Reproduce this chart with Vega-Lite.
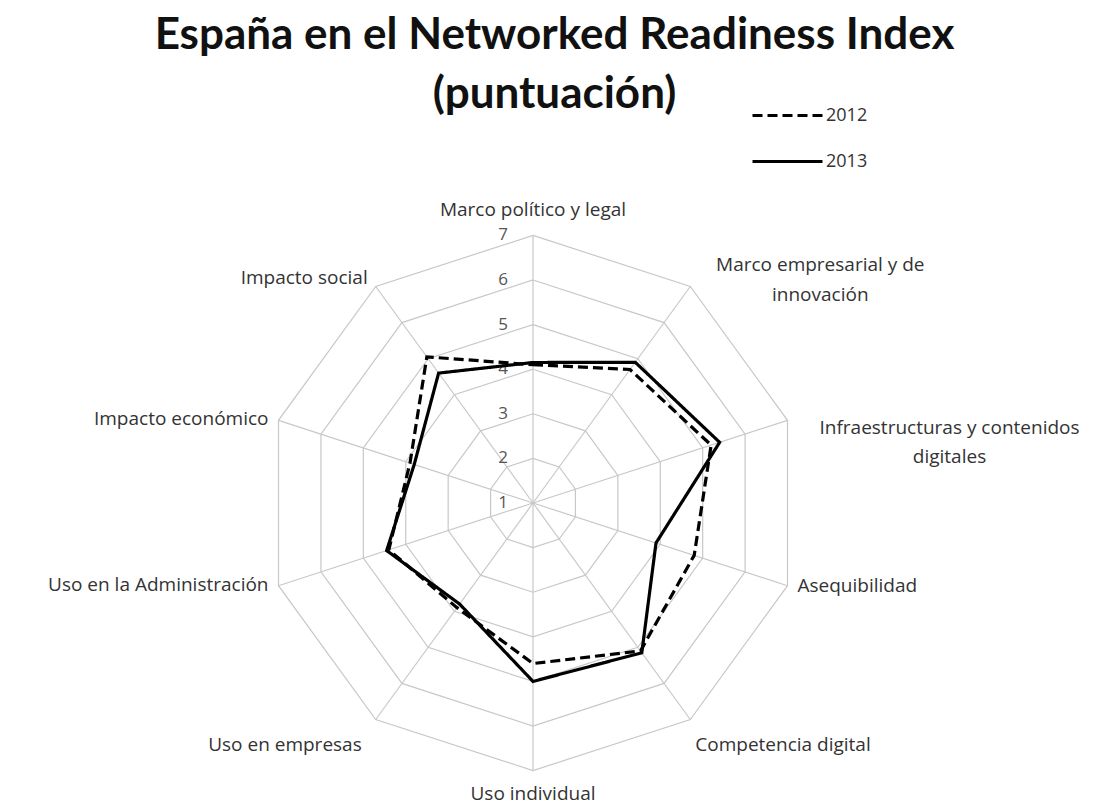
{
  "$schema": "https://vega.github.io/schema/vega-lite/v6.json",
  "autosize": {"type": "none"},
  "width": 1109,
  "height": 675,
  "padding": {"left": 0, "right": 0, "top": 130, "bottom": 0},
  "background": "white",
  "title": {
    "text": ["España en el Networked Readiness Index", "(puntuación)"],
    "font": "Lato",
    "fontSize": 44,
    "fontWeight": "bold",
    "lineHeight": 59,
    "anchor": "middle",
    "offset": -16,
    "dy": 22,
    "color": "#111111"
  },
  "config": {"view": {"stroke": null}},
  "datasets": {
    "scores": [
      {"eje": "Marco político y legal", "k": 0, "year": "2012", "value": 4.1},
      {"eje": "Marco empresarial y de innovación", "k": 1, "year": "2012", "value": 4.7},
      {"eje": "Infraestructuras y contenidos digitales", "k": 2, "year": "2012", "value": 5.2},
      {"eje": "Asequibilidad", "k": 3, "year": "2012", "value": 4.8},
      {"eje": "Competencia digital", "k": 4, "year": "2012", "value": 5.1},
      {"eje": "Uso individual", "k": 5, "year": "2012", "value": 4.6},
      {"eje": "Uso en empresas", "k": 6, "year": "2012", "value": 3.9},
      {"eje": "Uso en la Administración", "k": 7, "year": "2012", "value": 4.4},
      {"eje": "Impacto económico", "k": 8, "year": "2012", "value": 3.9},
      {"eje": "Impacto social", "k": 9, "year": "2012", "value": 5.05},
      {"eje": "Marco político y legal", "k": 0, "year": "2013", "value": 4.15},
      {"eje": "Marco empresarial y de innovación", "k": 1, "year": "2013", "value": 4.9},
      {"eje": "Infraestructuras y contenidos digitales", "k": 2, "year": "2013", "value": 5.4},
      {"eje": "Asequibilidad", "k": 3, "year": "2013", "value": 3.9},
      {"eje": "Competencia digital", "k": 4, "year": "2013", "value": 5.15},
      {"eje": "Uso individual", "k": 5, "year": "2013", "value": 5.0},
      {"eje": "Uso en empresas", "k": 6, "year": "2013", "value": 3.8},
      {"eje": "Uso en la Administración", "k": 7, "year": "2013", "value": 4.45},
      {"eje": "Impacto económico", "k": 8, "year": "2013", "value": 3.8},
      {"eje": "Impacto social", "k": 9, "year": "2013", "value": 4.6}
    ],
    "labels": [
      {"k": 0, "label": "Marco político y legal"},
      {"k": 1, "label": "Marco empresarial y de\ninnovación"},
      {"k": 2, "label": "Infraestructuras y contenidos\ndigitales"},
      {"k": 3, "label": "Asequibilidad"},
      {"k": 4, "label": "Competencia digital"},
      {"k": 5, "label": "Uso individual"},
      {"k": 6, "label": "Uso en empresas"},
      {"k": 7, "label": "Uso en la Administración"},
      {"k": 8, "label": "Impacto económico"},
      {"k": 9, "label": "Impacto social"}
    ],
    "grid": [
      {"k": 0, "ring": 2}, {"k": 1, "ring": 2}, {"k": 2, "ring": 2}, {"k": 3, "ring": 2}, {"k": 4, "ring": 2}, {"k": 5, "ring": 2}, {"k": 6, "ring": 2}, {"k": 7, "ring": 2}, {"k": 8, "ring": 2}, {"k": 9, "ring": 2},
      {"k": 0, "ring": 3}, {"k": 1, "ring": 3}, {"k": 2, "ring": 3}, {"k": 3, "ring": 3}, {"k": 4, "ring": 3}, {"k": 5, "ring": 3}, {"k": 6, "ring": 3}, {"k": 7, "ring": 3}, {"k": 8, "ring": 3}, {"k": 9, "ring": 3},
      {"k": 0, "ring": 4}, {"k": 1, "ring": 4}, {"k": 2, "ring": 4}, {"k": 3, "ring": 4}, {"k": 4, "ring": 4}, {"k": 5, "ring": 4}, {"k": 6, "ring": 4}, {"k": 7, "ring": 4}, {"k": 8, "ring": 4}, {"k": 9, "ring": 4},
      {"k": 0, "ring": 5}, {"k": 1, "ring": 5}, {"k": 2, "ring": 5}, {"k": 3, "ring": 5}, {"k": 4, "ring": 5}, {"k": 5, "ring": 5}, {"k": 6, "ring": 5}, {"k": 7, "ring": 5}, {"k": 8, "ring": 5}, {"k": 9, "ring": 5},
      {"k": 0, "ring": 6}, {"k": 1, "ring": 6}, {"k": 2, "ring": 6}, {"k": 3, "ring": 6}, {"k": 4, "ring": 6}, {"k": 5, "ring": 6}, {"k": 6, "ring": 6}, {"k": 7, "ring": 6}, {"k": 8, "ring": 6}, {"k": 9, "ring": 6},
      {"k": 0, "ring": 7}, {"k": 1, "ring": 7}, {"k": 2, "ring": 7}, {"k": 3, "ring": 7}, {"k": 4, "ring": 7}, {"k": 5, "ring": 7}, {"k": 6, "ring": 7}, {"k": 7, "ring": 7}, {"k": 8, "ring": 7}, {"k": 9, "ring": 7}
    ],
    "ticks": [{"t": 1}, {"t": 2}, {"t": 3}, {"t": 4}, {"t": 5}, {"t": 6}, {"t": 7}]
  },
  "layer": [
    {
      "data": {"name": "grid"},
      "transform": [
        {"calculate": "(datum.ring - 1) * sin(datum.k * PI / 5)", "as": "gx"},
        {"calculate": "(datum.ring - 1) * cos(datum.k * PI / 5)", "as": "gy"}
      ],
      "mark": {"type": "line", "interpolate": "linear-closed", "stroke": "#c8c8c8", "strokeWidth": 1.2},
      "encoding": {
        "x": {"field": "gx", "type": "quantitative", "scale": {"domain": [-11.951, 12.915], "nice": false, "zero": false}, "axis": null},
        "y": {"field": "gy", "type": "quantitative", "scale": {"domain": [-6.771, 8.363], "nice": false, "zero": false}, "axis": null},
        "detail": {"field": "ring", "type": "nominal"},
        "order": {"field": "k", "type": "quantitative"}
      }
    },
    {
      "data": {"name": "labels"},
      "transform": [
        {"calculate": "0", "as": "ox"},
        {"calculate": "6 * sin(datum.k * PI / 5)", "as": "sx"},
        {"calculate": "6 * cos(datum.k * PI / 5)", "as": "sy"}
      ],
      "mark": {"type": "rule", "stroke": "#c8c8c8", "strokeWidth": 1.2},
      "encoding": {
        "x": {"field": "ox", "type": "quantitative"},
        "y": {"field": "ox", "type": "quantitative"},
        "x2": {"field": "sx"},
        "y2": {"field": "sy"}
      }
    },
    {
      "data": {"name": "ticks"},
      "transform": [
        {"calculate": "0", "as": "ox"},
        {"calculate": "datum.t - 1", "as": "ty"}
      ],
      "mark": {"type": "text", "font": "Open Sans", "fontSize": 17, "color": "#555555", "align": "center", "baseline": "middle", "dx": -30, "dy": 0},
      "encoding": {
        "x": {"field": "ox", "type": "quantitative"},
        "y": {"field": "ty", "type": "quantitative"},
        "text": {"field": "t", "type": "quantitative"}
      }
    },
    {
      "data": {"name": "scores"},
      "transform": [
        {"calculate": "(datum.value - 1) * sin(datum.k * PI / 5)", "as": "px"},
        {"calculate": "(datum.value - 1) * cos(datum.k * PI / 5)", "as": "py"}
      ],
      "mark": {"type": "line", "interpolate": "linear-closed", "stroke": "black", "strokeWidth": 3.2},
      "encoding": {
        "x": {"field": "px", "type": "quantitative"},
        "y": {"field": "py", "type": "quantitative"},
        "order": {"field": "k", "type": "quantitative"},
        "strokeDash": {
          "field": "year",
          "type": "nominal",
          "scale": {"domain": ["2012", "2013"], "range": [[10, 5], [1, 0]]},
          "legend": {
            "title": null,
            "orient": "none",
            "legendX": 751,
            "legendY": -51,
            "symbolType": "stroke",
            "symbolSize": 4900,
            "symbolStrokeWidth": 3,
            "symbolStrokeColor": "black",
            "labelFont": "Open Sans",
            "labelFontSize": 18,
            "labelColor": "#333333",
            "labelOffset": 2,
            "rowPadding": -23
          }
        }
      }
    },
    {
      "data": {"name": "labels"},
      "transform": [
        {"calculate": "6 * sin(datum.k * PI / 5)", "as": "lx"},
        {"calculate": "6 * cos(datum.k * PI / 5)", "as": "ly"},
        {"filter": "datum.k == 0"}
      ],
      "mark": {"type": "text", "font": "Open Sans", "fontSize": 19, "color": "#333333", "align": "center", "baseline": "middle", "dy": -25},
      "encoding": {
        "x": {"field": "lx", "type": "quantitative"},
        "y": {"field": "ly", "type": "quantitative"},
        "text": {"field": "label"}
      }
    },
    {
      "data": {"name": "labels"},
      "transform": [
        {"calculate": "6 * sin(datum.k * PI / 5)", "as": "lx"},
        {"calculate": "6 * cos(datum.k * PI / 5)", "as": "ly"},
        {"filter": "datum.k == 5"}
      ],
      "mark": {"type": "text", "font": "Open Sans", "fontSize": 19, "color": "#333333", "align": "center", "baseline": "middle", "dy": 23},
      "encoding": {
        "x": {"field": "lx", "type": "quantitative"},
        "y": {"field": "ly", "type": "quantitative"},
        "text": {"field": "label"}
      }
    },
    {
      "data": {"name": "labels"},
      "transform": [
        {"calculate": "6 * sin(datum.k * PI / 5)", "as": "lx"},
        {"calculate": "6 * cos(datum.k * PI / 5)", "as": "ly"},
        {"filter": "datum.k == 1"}
      ],
      "mark": {"type": "text", "font": "Open Sans", "fontSize": 19, "color": "#333333", "align": "center", "baseline": "middle", "lineBreak": "\n", "lineHeight": 30, "dx": 130, "dy": -22},
      "encoding": {
        "x": {"field": "lx", "type": "quantitative"},
        "y": {"field": "ly", "type": "quantitative"},
        "text": {"field": "label"}
      }
    },
    {
      "data": {"name": "labels"},
      "transform": [
        {"calculate": "6 * sin(datum.k * PI / 5)", "as": "lx"},
        {"calculate": "6 * cos(datum.k * PI / 5)", "as": "ly"},
        {"filter": "datum.k == 2"}
      ],
      "mark": {"type": "text", "font": "Open Sans", "fontSize": 19, "color": "#333333", "align": "center", "baseline": "middle", "lineBreak": "\n", "lineHeight": 29, "dx": 162, "dy": 8},
      "encoding": {
        "x": {"field": "lx", "type": "quantitative"},
        "y": {"field": "ly", "type": "quantitative"},
        "text": {"field": "label"}
      }
    },
    {
      "data": {"name": "labels"},
      "transform": [
        {"calculate": "6 * sin(datum.k * PI / 5)", "as": "lx"},
        {"calculate": "6 * cos(datum.k * PI / 5)", "as": "ly"},
        {"filter": "datum.k == 3"}
      ],
      "mark": {"type": "text", "font": "Open Sans", "fontSize": 19, "color": "#333333", "align": "left", "baseline": "middle", "dx": 10, "dy": 0},
      "encoding": {
        "x": {"field": "lx", "type": "quantitative"},
        "y": {"field": "ly", "type": "quantitative"},
        "text": {"field": "label"}
      }
    },
    {
      "data": {"name": "labels"},
      "transform": [
        {"calculate": "6 * sin(datum.k * PI / 5)", "as": "lx"},
        {"calculate": "6 * cos(datum.k * PI / 5)", "as": "ly"},
        {"filter": "datum.k == 4"}
      ],
      "mark": {"type": "text", "font": "Open Sans", "fontSize": 19, "color": "#333333", "align": "left", "baseline": "middle", "dx": 5, "dy": 25},
      "encoding": {
        "x": {"field": "lx", "type": "quantitative"},
        "y": {"field": "ly", "type": "quantitative"},
        "text": {"field": "label"}
      }
    },
    {
      "data": {"name": "labels"},
      "transform": [
        {"calculate": "6 * sin(datum.k * PI / 5)", "as": "lx"},
        {"calculate": "6 * cos(datum.k * PI / 5)", "as": "ly"},
        {"filter": "datum.k == 6"}
      ],
      "mark": {"type": "text", "font": "Open Sans", "fontSize": 19, "color": "#333333", "align": "right", "baseline": "middle", "dx": -14, "dy": 25},
      "encoding": {
        "x": {"field": "lx", "type": "quantitative"},
        "y": {"field": "ly", "type": "quantitative"},
        "text": {"field": "label"}
      }
    },
    {
      "data": {"name": "labels"},
      "transform": [
        {"calculate": "6 * sin(datum.k * PI / 5)", "as": "lx"},
        {"calculate": "6 * cos(datum.k * PI / 5)", "as": "ly"},
        {"filter": "datum.k == 7 || datum.k == 8"}
      ],
      "mark": {"type": "text", "font": "Open Sans", "fontSize": 19, "color": "#333333", "align": "right", "baseline": "middle", "dx": -10, "dy": -1},
      "encoding": {
        "x": {"field": "lx", "type": "quantitative"},
        "y": {"field": "ly", "type": "quantitative"},
        "text": {"field": "label"}
      }
    },
    {
      "data": {"name": "labels"},
      "transform": [
        {"calculate": "6 * sin(datum.k * PI / 5)", "as": "lx"},
        {"calculate": "6 * cos(datum.k * PI / 5)", "as": "ly"},
        {"filter": "datum.k == 9"}
      ],
      "mark": {"type": "text", "font": "Open Sans", "fontSize": 19, "color": "#333333", "align": "right", "baseline": "middle", "dx": -8, "dy": -9},
      "encoding": {
        "x": {"field": "lx", "type": "quantitative"},
        "y": {"field": "ly", "type": "quantitative"},
        "text": {"field": "label"}
      }
    }
  ]
}
